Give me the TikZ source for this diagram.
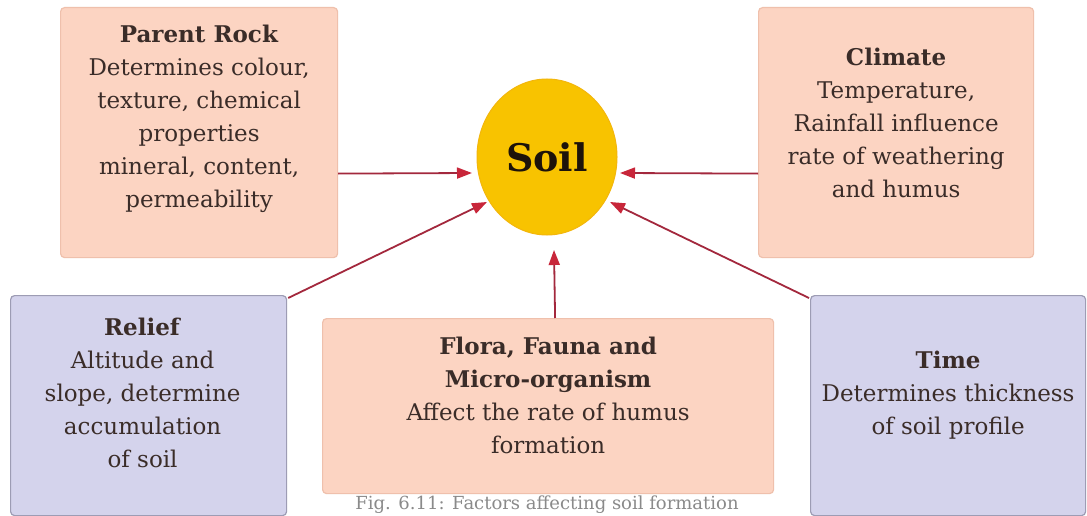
\documentclass[tikz,border=0pt]{standalone}
\usepackage{fontspec}
\setmainfont{DejaVu Serif}
\usetikzlibrary{arrows.meta,shapes.geometric,calc}
\definecolor{peach}{HTML}{FCD4C2}
\definecolor{peachedge}{HTML}{EFC0AC}
\definecolor{lav}{HTML}{D4D3EC}
\definecolor{lavedge}{HTML}{9D9CB4}
\definecolor{soilc}{HTML}{F8C300}
\definecolor{soiledge}{HTML}{F3B60C}
\definecolor{arrline}{HTML}{A3283D}
\definecolor{arrtip}{HTML}{C8263A}
\definecolor{txt}{HTML}{3A2C28}
\definecolor{captxt}{HTML}{8A8A8A}
\begin{document}
\begin{tikzpicture}[x=1pt,y=-1pt,
 box/.style={draw, line width=1.2pt, rounded corners=4pt, inner sep=0pt, anchor=north west},
 pbox/.style={box, fill=peach, draw=peachedge},
 lbox/.style={box, fill=lav, draw=lavedge},
 lbl/.style={align=center, text=txt, font=\fontsize{23}{33}\selectfont, inner sep=0pt},
 arr/.style={draw=arrline, line width=1.8pt, -{Triangle[length=15pt,width=11pt,color=arrtip]}},
]
\useasboundingbox (0,0) rectangle (1087,516);
\fill[white] (0,0) rectangle (1087,516);

% boxes
\node[pbox, minimum width=277, minimum height=250] (pr) at (60,7) {};
\node[pbox, minimum width=275, minimum height=250] (cl) at (758,7) {};
\node[lbox, minimum width=276, minimum height=220] (rl) at (10,295) {};
\node[pbox, minimum width=451, minimum height=175] (fl) at (322,318) {};
\node[lbox, minimum width=275, minimum height=220] (tm) at (810,295) {};

% soil
\node[ellipse, fill=soilc, draw=soiledge, line width=1pt, minimum width=140, minimum height=156, inner sep=0pt,
      font=\bfseries\fontsize{38}{40}\selectfont, text=black!85!brown] (soil) at (547,157) {Soil};

% texts
\node[lbl] (prt) at ($(pr.center)+(0,-14)$) {\textbf{Parent Rock}\\Determines colour,\\texture, chemical\\properties\\mineral, content,\\permeability};
\node[lbl] (clt) at ($(cl.center)+(0,-10)$) {\textbf{Climate}\\Temperature,\\Rainfall influence\\rate of weathering\\and humus};
\node[lbl] (rlt) at ($(rl.center)+(-6,-13)$) {\textbf{Relief}\\Altitude and\\slope, determine\\accumulation\\of soil};
\node[lbl] (flt) at ($(fl.center)+(0,-11)$) {\textbf{Flora, Fauna and}\\\textbf{Micro-organism}\\Affect the rate of humus\\formation};
\node[lbl] (tmt) at ($(tm.center)+(0,-10)$) {\textbf{Time}\\Determines thickness\\of soil profile};

% arrows
\draw[arr] ($(pr.east)+(0,41)$) -- ($(soil.center)+(-75,16)$);
\draw[arr] ($(cl.west)+(0,41)$) -- ($(soil.center)+(73,16)$);
\draw[arr] ($(rl.north east)+(1,3)$) -- ($(soil.center)+(-60,45)$);
\draw[arr] ($(tm.north west)+(-1,3)$) -- ($(soil.center)+(63,45)$);
\draw[arr] ($(fl.north)+(7,0)$) -- ($(soil.center)+(7,93)$);

% caption
\node[anchor=north, font=\fontsize{18}{20}\selectfont, text=captxt, inner sep=0pt] (cap) at (547,496) {Fig. 6.11: Factors affecting soil formation};
\end{tikzpicture}
\end{document}
